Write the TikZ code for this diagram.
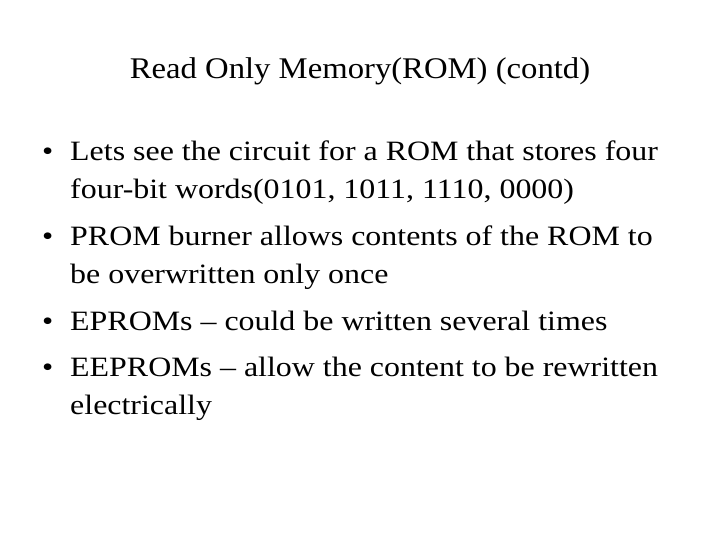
\documentclass[tikz,border=0pt]{standalone}
\usepackage{fontspec}
\setmainfont{Liberation Serif}
\begin{document}
\begin{tikzpicture}[x=1pt,y=-1pt,
  txt/.style={anchor=base west,inner sep=0pt,font=\fontsize{28}{32}\selectfont,xscale=1.14,transform shape},
  ttl/.style={anchor=base,inner sep=0pt,font=\fontsize{30}{34}\selectfont,xscale=1.09,transform shape}]
\useasboundingbox[fill=white] (0,0) rectangle (720,540);
\node[ttl] (t) at (360,79) {Read Only Memory(ROM) (contd)};
\node[txt] (b1) at (42,161) {•};
\node[txt] (l1) at (70,161) {Lets see the circuit for a ROM that stores four};
\node[txt] (l1b) at (70,199) {four-bit words(0101, 1011, 1110, 0000)};
\node[txt] (b2) at (42,245) {•};
\node[txt] (l2) at (70,245) {PROM burner allows contents of the ROM to};
\node[txt] (l2b) at (70,283) {be overwritten only once};
\node[txt] (b3) at (42,330) {•};
\node[txt] (l3) at (70,330) {EPROMs -- could be written several times};
\node[txt] (b4) at (42,376) {•};
\node[txt] (l4) at (70,376) {EEPROMs -- allow the content to be rewritten};
\node[txt] (l4b) at (70,414) {electrically};
\end{tikzpicture}
\end{document}
